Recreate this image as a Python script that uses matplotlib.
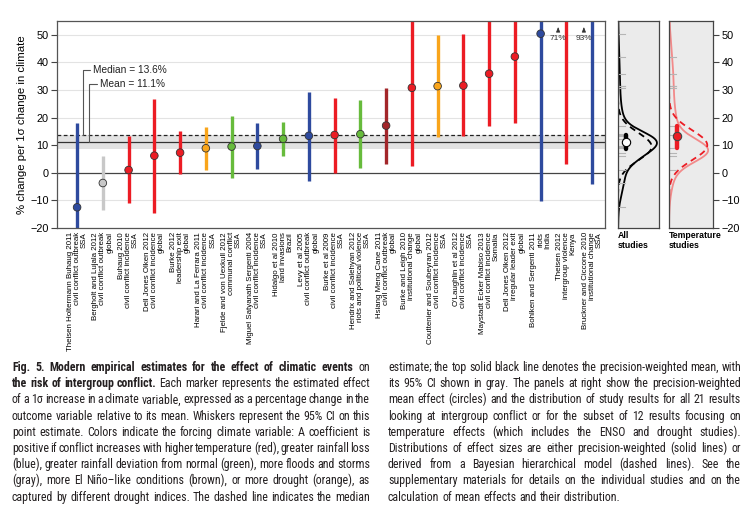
import matplotlib
matplotlib.use("Agg")
import matplotlib.pyplot as plt
import matplotlib.font_manager as fm
import numpy as np

# ---- study results, in plot order ----
authors = ["Theisen Holtermann Buhaug 2011", "Bergholt and Lujala 2012", "Buhaug 2010",
           "Dell Jones Olken 2012", "Burke 2012", "Harari and La Ferrara 2011",
           "Fjelde and von Uexkull 2012", "Miguel Satyanath Sergenti 2004", "Hidalgo et al 2010",
           "Levy et al 2005", "Burke et al 2009", "Hendrix and Salehyan 2012",
           "Hsiang Meng Cane 2011", "Burke and Leigh 2010", "Couttenier and Soubeyran 2012",
           "O'Laughlin et al 2012", "Maystadt Ecker Mabiso 2013", "Dell Jones Olken 2012",
           "Bohlken and Sergenti 2011", "Theisen 2012", "Bruckner and Ciccone 2010"]
outcomes = ["civil conflict outbreak", "civil conflict outbreak", "civil conflict incidence",
            "civil conflict incidence", "leadership exit", "civil conflict incidence",
            "communal conflict", "civil conflict incidence", "land invasions",
            "civil conflict outbreak", "civil conflict incidence", "riots and political violence",
            "civil conflict outbreak", "institutional change", "civil conflict incidence",
            "civil conflict incidence", "civil conflict incidence", "irregular leader exit",
            "riots", "intergroup violence", "institutional change"]
regions = ["SSA", "global", "SSA", "global", "global", "SSA", "SSA", "SSA", "Brazil", "global",
           "SSA", "SSA", "global", "global", "SSA", "SSA", "Somalia", "global", "India", "Kenya", "SSA"]
variable = ["rain", "flood", "temp", "temp", "temp", "drought", "deviation", "rain", "deviation",
            "rain", "temp", "deviation", "enso", "temp", "drought", "temp", "temp", "temp",
            "rain", "temp", "rain"]
estimate = [-12.5, -3.7, 1.0, 6.2, 7.3, 8.9, 9.5, 9.7, 12.3, 13.4, 13.7, 14.0,
            17.1, 30.8, 31.4, 31.6, 35.9, 42.1, 50.4, 71.0, 93.0]
ci_low = [-43.0, -13.5, -11.0, -14.7, -0.5, 1.0, -1.8, 1.4, 6.2, -3.0, 0.0, 1.6,
          3.2, 2.6, 12.9, 13.3, 16.9, 18.0, -10.2, 3.3, -4.0]
ci_high = [18.2, 6.2, 13.5, 26.9, 15.1, 16.7, 20.6, 18.0, 18.4, 29.4, 27.0, 26.2,
           30.9, 59.0, 49.8, 50.4, 56.0, 66.0, 111.0, 139.0, 190.0]

colors = {"temp": "#ec1c24", "rain": "#2e4a9e", "deviation": "#67bb3c", "flood": "#c8c8c8",
          "enso": "#a3262a", "drought": "#f9a51b"}
temperature_like = ["temp", "enso", "drought"]

median_all = 13.6
mean_all = 11.1
mean_all_ci = [8.6, 13.6]
mean_temp = 13.3
mean_temp_ci = [9.0, 17.0]
# Bayesian hierarchical model (dashed curves): mean and spread
bayes_all = [9.5, 5.0]
bayes_temp = [10.0, 5.4]

ylo, yhi = -20, 55
plt.rcParams["font.family"] = ["Liberation Sans", "DejaVu Sans"]

fig = plt.figure(figsize=(7.5, 5.14), dpi=100)
W, H = 750, 514


def box(x0, y0, x1, y1):
    return [x0 / W, 1 - y1 / H, (x1 - x0) / W, (y1 - y0) / H]


ax = fig.add_axes(box(57, 21, 605, 228))
ax_all = fig.add_axes(box(618, 21, 659, 228))
ax_tmp = fig.add_axes(box(669, 21, 713, 228))

x = np.arange(1, len(estimate) + 1)
est = np.array(estimate)
lo = np.array(ci_low)
hi = np.array(ci_high)
cols = [colors[v] for v in variable]

# main panel
for g in range(-10, 51, 10):
    if g != 0:
        ax.axhline(g, color="#e3e3e3", lw=0.8, zorder=0)
ax.axhspan(mean_all_ci[0], mean_all_ci[1], color="#e2e2e2", lw=0, zorder=0)
ax.axhline(0, color="#444444", lw=0.9, zorder=1)
ax.axhline(mean_all, color="#333333", lw=0.9, zorder=1)
ax.axhline(median_all, color="#222222", lw=0.9, ls=(0, (3, 2)), zorder=1)

ax.vlines(x, lo, hi, colors=cols, lw=2.4, zorder=2)
shown = est <= yhi
ax.scatter(x[shown], est[shown], s=30, c=np.array(cols)[shown], edgecolors="#333333",
           linewidths=0.6, zorder=3)
for xi, e in zip(x[~shown], est[~shown]):
    ax.annotate("", xy=(xi - 0.32, 53.8), xytext=(xi - 0.32, 50.2),
                arrowprops=dict(arrowstyle="-|>,head_length=0.3,head_width=0.12", lw=0.5, color="#333333"))
    ax.text(xi - 0.32, 49.8, f"{e:.0f}%", ha="center", va="top", fontsize=6, color="#333333")

ax.annotate(f"Median = {median_all}%", xy=(1.24, median_all), xytext=(1.62, 37.3),
            ha="left", va="center", fontsize=7.3, color="#222222",
            arrowprops=dict(arrowstyle="-", connectionstyle="angle,angleA=0,angleB=90,rad=0",
                            shrinkA=0, shrinkB=0, lw=0.8, color="#555555"))
ax.annotate(f"Mean = {mean_all}%", xy=(1.47, mean_all), xytext=(1.9, 32.3),
            ha="left", va="center", fontsize=7.3, color="#222222",
            arrowprops=dict(arrowstyle="-", connectionstyle="angle,angleA=0,angleB=90,rad=0",
                            shrinkA=0, shrinkB=0, lw=0.8, color="#555555"))

ax.set_xlim(0.22, 21.5)
ax.set_ylim(ylo, yhi)
ax.set_yticks(range(-20, 51, 10))
ax.tick_params(axis="y", labelsize=7.8, length=4, width=0.8, color="#444444", pad=2)
ax.set_xticks(x)
ax.set_xticklabels([f"{a}\n{o}\n{r}" for a, o, r in zip(authors, outcomes, regions)],
                   rotation=90, fontsize=5.7, multialignment="right", linespacing=1.0)
ax.tick_params(axis="x", length=0, pad=3)
ax.set_ylabel("% change per 1σ change in climate", fontsize=8.2, labelpad=2)
for s in ax.spines.values():
    s.set_color("#555555")
    s.set_linewidth(0.9)

# distribution panels
yy = np.linspace(ylo, yhi, 800)
se = (hi - lo) / 3.92


def weighted_mix(mask):
    w = 1 / se[mask] ** 2
    w = w / w.sum()
    d = np.zeros_like(yy)
    for m, s, wi in zip(est[mask], se[mask], w):
        d += wi * np.exp(-0.5 * ((yy - m) / s) ** 2) / (s * np.sqrt(2 * np.pi))
    return d


def normal(p):
    return np.exp(-0.5 * ((yy - p[0]) / p[1]) ** 2) / (p[1] * np.sqrt(2 * np.pi))


all_mask = np.ones(len(est), bool)
tmp_mask = np.array([v in temperature_like for v in variable])

# (axes, subset, solid colour, dashed colour, bayes params, mean, ci, face, x of mean, peak widths)
for a, mask, solid_col, dash_col, bayes, mval, mci, face, xm, peaks in [
        (ax_all, all_mask, "black", "black", bayes_all, mean_all, mean_all_ci, "white", 0.2, (0.95, 0.82)),
        (ax_tmp, tmp_mask, "#f28a8a", "#ec1c24", bayes_temp, mean_temp, mean_temp_ci, "#ec1c24", 0.18, (0.89, 0.87))]:
    a.set_facecolor("#ebebeb")
    d_solid = weighted_mix(mask)
    d_dash = normal(bayes)
    a.plot(d_solid / d_solid.max() * peaks[0], yy, color=solid_col, lw=1.3)
    a.plot(d_dash / d_dash.max() * peaks[1], yy, color=dash_col, lw=1.3, ls=(0, (3.5, 2.5)))
    for v in est[mask]:
        a.axhline(v, 0.03, 0.16, color="#b5b5b5", lw=0.8)
    tr = a.get_yaxis_transform()
    a.plot([xm, xm], mci, color="black" if face == "white" else face, lw=3.2,
           solid_capstyle="round", transform=tr)
    a.plot([xm], [mval], "o", ms=6, mfc=face, mec="black" if face == "white" else "#444444",
           mew=0.8, transform=tr)
    a.set_xlim(0, 1)
    a.set_ylim(ylo, yhi)
    a.set_xticks([])
    for s in a.spines.values():
        s.set_color("#444444")
        s.set_linewidth(0.9)

ax_all.set_yticks([])
ax_tmp.yaxis.tick_right()
ax_tmp.set_yticks(range(-20, 51, 10))
ax_tmp.tick_params(axis="y", labelsize=7.8, length=4, width=0.8, color="#444444", pad=2)

fig.text(618 / W, 1 - 231 / H, "All\nstudies", ha="left", va="top", fontsize=6.3,
         fontweight="bold", linespacing=1.1)
fig.text(669 / W, 1 - 231 / H, "Temperature\nstudies", ha="left", va="top", fontsize=6.3,
         fontweight="bold", linespacing=1.1)

# caption, justified in two columns
cap_left = [
    "Fig. 5. Modern empirical estimates for the effect of climatic events on",
    "the risk of intergroup conflict. Each marker represents the estimated effect",
    "of a 1σ increase in a climate variable, expressed as a percentage change in the",
    "outcome variable relative to its mean. Whiskers represent the 95% CI on this",
    "point estimate. Colors indicate the forcing climate variable: A coefficient is",
    "positive if conflict increases with higher temperature (red), greater rainfall loss",
    "(blue), greater rainfall deviation from normal (green), more floods and storms",
    "(gray), more El Niño–like conditions (brown), or more drought (orange), as",
    "captured by different drought indices. The dashed line indicates the median",
]
cap_right = [
    "estimate; the top solid black line denotes the precision-weighted mean, with",
    "its 95% CI shown in gray. The panels at right show the precision-weighted",
    "mean effect (circles) and the distribution of study results for all 21 results",
    "looking at intergroup conflict or for the subset of 12 results focusing on",
    "temperature effects (which includes the ENSO and drought studies).",
    "Distributions of effect sizes are either precision-weighted (solid lines) or",
    "derived from a Bayesian hierarchical model (dashed lines). See the",
    "supplementary materials for details on the individual studies and on the",
    "calculation of mean effects and their distribution.",
]
bold_words = [11, 5, 0, 0, 0, 0, 0, 0, 0]

names = {f.name for f in fm.fontManager.ttflist}
cap_family = "Liberation Sans"
for cand in ["Liberation Sans Narrow", "Roboto Condensed", "Open Sans Condensed", "Noto Sans Condensed"]:
    if cand in names:
        cap_family = cand
        break
cap_kw = {"family": [cap_family, "DejaVu Sans"]}

renderer = fig.canvas.get_renderer()


def width_px(s, fs, bold=False):
    t = fig.text(0, 0, s, fontsize=fs, fontweight="bold" if bold else "normal", **cap_kw)
    w = t.get_window_extent(renderer).width
    t.remove()
    return w


cols_def = [(cap_left, 12, 370, bold_words), (cap_right, 388, 741, [0] * 9)]
fs = 8.6
ratios = []
for lines, x0, x1, bw in cols_def:
    for li, l in enumerate(lines):
        ws = l.split(" ")
        tot = sum(width_px(w, fs, i < bw[li]) for i, w in enumerate(ws)) + (len(ws) - 1) * 1.2
        ratios.append(tot / (x1 - x0))
if max(ratios) > 1:
    fs = fs / max(ratios)

for ci, (lines, x0, x1, bw) in enumerate(cols_def):
    for li, line in enumerate(lines):
        ybase = 1 - (371 + 16.2 * li) / H
        words = line.split(" ")
        last = ci == 1 and li == len(lines) - 1
        widths = [width_px(w, fs, i < bw[li]) for i, w in enumerate(words)]
        if last:
            gap = width_px("a a", fs) - width_px("aa", fs)
        else:
            gap = (x1 - x0 - sum(widths)) / (len(words) - 1)
        xp = x0
        for i, (w, wd) in enumerate(zip(words, widths)):
            fig.text(xp / W, ybase, w, fontsize=fs, fontweight="bold" if i < bw[li] else "normal",
                     va="baseline", ha="left", color="#231f20", **cap_kw)
            xp += wd + gap

fig.savefig("out.png", dpi=100)
